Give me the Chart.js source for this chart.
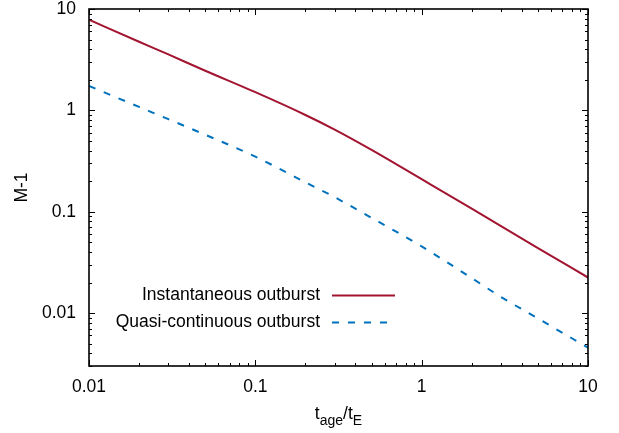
<!DOCTYPE html>
<html>
<head>
<meta charset="utf-8">
<script src="https://cdn.jsdelivr.net/npm/chart.js@4/dist/chart.umd.min.js"></script>
<style>
  html, body { margin: 0; padding: 0; background: #ffffff; }
  #wrap { width: 619px; height: 433px; }
</style>
</head>
<body>
<div id="wrap"><canvas id="c" width="619" height="433"></canvas></div>
<script>
// t_age / t_E sample points
const tAge = [0.01, 0.02, 0.03, 0.05, 0.1, 0.2, 0.3, 0.5, 1, 2, 3, 5, 10];
// M-1 for an instantaneous outburst
const instantaneous = [7.83, 4.75, 3.56, 2.46, 1.51, 0.90, 0.646, 0.407, 0.209, 0.107, 0.0719, 0.0437, 0.0224];
// M-1 for a quasi-continuous outburst
const quasiContinuous = [1.74, 1.08, 0.818, 0.574, 0.349, 0.195, 0.139, 0.0869, 0.0454, 0.0221, 0.0144, 0.00883, 0.00455];

const seriesNames = ['Instantaneous outburst', 'Quasi-continuous outburst'];
const xMajorTicks = [0.01, 0.1, 1, 10];
const yMajorTicks = [0.01, 0.1, 1, 10];
const xRange = [0.01, 10];
const yRange = [0.003, 10];

const FONT = '"Liberation Sans", Arial, Helvetica, sans-serif';
const TICK_PX = 17.5;

function pairs(xs, ys) { return xs.map((x, i) => ({ x: x, y: ys[i] })); }

function minorValues(lo, hi) {
  const out = [];
  for (let d = Math.floor(Math.log10(lo)); d <= Math.ceil(Math.log10(hi)); d++) {
    const base = Math.pow(10, d);
    for (let m = 1; m <= 9; m++) {
      const v = +(m * base).toPrecision(6);
      if (v >= lo * 0.999 && v <= hi * 1.001) out.push({ v: v, major: m === 1 });
    }
  }
  return out;
}

const frame = {
  id: 'frame',
  afterDatasetsDraw(chart) {
    const ctx = chart.ctx;
    const a = chart.chartArea;
    const xs = chart.scales.x, ys = chart.scales.y;
    ctx.save();
    ctx.strokeStyle = '#000';

    // tick marks, pointing inward on all four sides
    ctx.beginPath();
    minorValues(xRange[0], xRange[1]).forEach(t => {
      const px = Math.round(xs.getPixelForValue(t.v)) + 0.5;
      const len = t.major ? 6 : 3;
      ctx.moveTo(px, a.bottom); ctx.lineTo(px, a.bottom - len);
      ctx.moveTo(px, a.top); ctx.lineTo(px, a.top + len);
    });
    minorValues(yRange[0], yRange[1]).forEach(t => {
      const py = Math.round(ys.getPixelForValue(t.v)) + 0.5;
      const len = t.major ? 6 : 3;
      ctx.moveTo(a.left, py); ctx.lineTo(a.left + len, py);
      ctx.moveTo(a.right, py); ctx.lineTo(a.right - len, py);
    });
    ctx.lineWidth = 1;
    ctx.stroke();

    // border
    ctx.lineWidth = 1.6;
    ctx.strokeRect(a.left, a.top, a.right - a.left, a.bottom - a.top);

    // tick labels
    ctx.fillStyle = '#000';
    ctx.font = TICK_PX + 'px ' + FONT;
    ctx.textAlign = 'center';
    ctx.textBaseline = 'middle';
    xMajorTicks.forEach(v => {
      ctx.fillText(String(v), xs.getPixelForValue(v), a.bottom + 21);
    });
    ctx.textAlign = 'right';
    yMajorTicks.forEach(v => {
      ctx.fillText(String(v), a.left - 13, ys.getPixelForValue(v));
    });

    // y-axis title
    ctx.save();
    ctx.translate(22, (a.top + a.bottom) / 2);
    ctx.rotate(-Math.PI / 2);
    ctx.textAlign = 'center';
    ctx.fillText('M-1', 0, 0);
    ctx.restore();

    // x-axis title with subscripts: t_age/t_E
    const SUB_PX = 14;
    const parts = [
      { t: 't', sub: false }, { t: 'age', sub: true },
      { t: '/t', sub: false }, { t: 'E', sub: true }
    ];
    let total = 0;
    parts.forEach(p => {
      ctx.font = (p.sub ? SUB_PX : TICK_PX) + 'px ' + FONT;
      p.w = ctx.measureText(p.t).width;
      total += p.w;
    });
    let cx = (a.left + a.right) / 2 - total / 2;
    const base = a.bottom + 53;
    ctx.textAlign = 'left';
    ctx.textBaseline = 'alphabetic';
    parts.forEach(p => {
      ctx.font = (p.sub ? SUB_PX : TICK_PX) + 'px ' + FONT;
      ctx.fillText(p.t, cx, p.sub ? base + 6 : base);
      cx += p.w;
    });

    // key
    const keyTextRight = 320;
    const sampleL = 332, sampleR = 395;
    const rows = [295, 322];
    chart.data.datasets.forEach((ds, i) => {
      const y = rows[i];
      ctx.font = TICK_PX + 'px ' + FONT;
      ctx.textAlign = 'right';
      ctx.textBaseline = 'middle';
      ctx.fillStyle = '#000';
      ctx.fillText(ds.label, keyTextRight, y);
      ctx.beginPath();
      ctx.strokeStyle = ds.borderColor;
      ctx.lineWidth = ds.borderWidth;
      ctx.setLineDash(ds.borderDash || []);
      ctx.moveTo(sampleL, y + 0.5);
      ctx.lineTo(sampleR, y + 0.5);
      ctx.stroke();
      ctx.setLineDash([]);
    });
    ctx.restore();
  }
};

new Chart(document.getElementById('c'), {
  type: 'line',
  data: {
    datasets: [
      {
        label: seriesNames[0],
        data: pairs(tAge, instantaneous),
        borderColor: '#a2142f',
        borderWidth: 2,
        pointRadius: 0,
        cubicInterpolationMode: 'monotone',
        fill: false
      },
      {
        label: seriesNames[1],
        data: pairs(tAge, quasiContinuous),
        borderColor: '#0072bd',
        borderWidth: 2,
        borderDash: [7, 9],
        pointRadius: 0,
        cubicInterpolationMode: 'monotone',
        fill: false
      }
    ]
  },
  options: {
    responsive: false,
    animation: false,
    devicePixelRatio: 1,
    layout: { padding: { left: 89, right: 31, top: 9, bottom: 67 } },
    plugins: { legend: { display: false }, tooltip: { enabled: false } },
    scales: {
      x: { type: 'logarithmic', min: xRange[0], max: xRange[1], display: false },
      y: { type: 'logarithmic', min: yRange[0], max: yRange[1], display: false }
    }
  },
  plugins: [frame]
});
</script>
</body>
</html>
